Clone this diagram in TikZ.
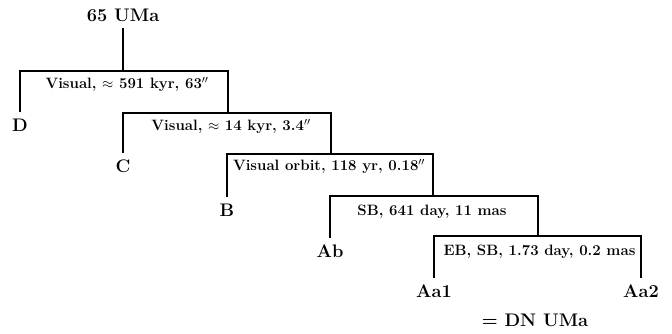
\documentclass[tikz,border=0pt]{standalone}
\usepackage{fontspec}
\begin{document}
\begin{tikzpicture}[x=1pt,y=-1pt,
  every node/.style={inner sep=0pt, outer sep=0pt},
  star/.style={font=\fontsize{18.2}{21}\selectfont\bfseries,
               text height=12.5pt, text depth=0pt, outer ysep=7pt, anchor=base},
  orbit/.style={font=\fontsize{15}{18}\selectfont\bfseries,
                text height=10.5pt, text depth=3pt, anchor=north, yshift=-7pt},
  link/.style={line width=1.7pt, line join=miter}]
\useasboundingbox (0,0) rectangle (672,333);

% components
\node[star] (root) at (123,21)  {65 UMa};
\node[star] (D)    at (20,131)  {D};
\node[star] (C)    at (123,172) {C};
\node[star] (B)    at (227,216) {B};
\node[star] (Ab)   at (330,257) {Ab};
\node[star] (Aa1)  at (434,297) {Aa1};
\node[star] (Aa2)  at (641,297) {Aa2};
\node[star] (dn)   at (535,326) {= DN UMa};

% right corners of each pairing bracket
\coordinate (h1) at (228,71);
\coordinate (h2) at (331,113);
\coordinate (h3) at (433,154);
\coordinate (h4) at (538,196);
\coordinate (h5) at (641,236);

% hierarchy
\draw[link] (root.south) -- (root.south |- h1);
\draw[link] (D.north) -- (D.north |- h1)
  -- node[orbit, xshift=3pt] {Visual, $\approx$ 591 kyr, 63$''$} (h1) -- (h1 |- h2);
\draw[link] (C.north) -- (C.north |- h2)
  -- node[orbit, xshift=4pt] {Visual, $\approx$ 14 kyr, 3.4$''$} (h2) -- (h2 |- h3);
\draw[link] (B.north) -- (B.north |- h3)
  -- node[orbit, xshift=-1pt, yshift=1pt] {Visual orbit, 118 yr, 0.18$''$} (h3) -- (h3 |- h4);
\draw[link] (Ab.north) -- (Ab.north |- h4)
  -- node[orbit, xshift=-2pt, yshift=-1.5pt] {SB, 641 day, 11 mas} (h4) -- (h4 |- h5);
\draw[link] (Aa1.north) -- (Aa1.north |- h5)
  -- node[orbit, xshift=2pt, yshift=-1.5pt] {EB, SB, 1.73 day, 0.2 mas} (h5) -- (Aa2.north);
\end{tikzpicture}
\end{document}
